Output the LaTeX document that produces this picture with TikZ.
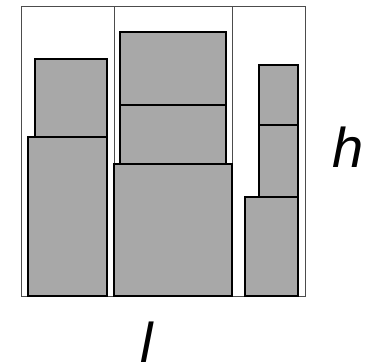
\documentclass[tikz,border=0pt]{standalone}
\usepackage{fontspec}
\setmainfont{Liberation Sans}
\definecolor{boxgray}{HTML}{A8A8A8}
\tikzset{
  frame/.style={draw=black!70,line width=0.8pt},
  block/.style={draw=black,fill=boxgray,line width=1.6pt},
  dimlabel/.style={inner sep=0pt,anchor=base west,font=\fontsize{56}{60}\selectfont\itshape}
}
\begin{document}
\begin{tikzpicture}[x=1pt,y=-1pt]
\useasboundingbox (0,0) rectangle (365,364);
% bins
\draw[frame] (21.5,6) rectangle (305,296);
\draw[frame] (114,6) -- (114,296);
\draw[frame] (232,6) -- (232,296);
% stacked items
\foreach \xa/\ya/\xb/\yb in {28/137/107/296, 35/59/107/137,
  114/164/232/296, 120/105/226/164, 120/32/226/105,
  245/197/298/296, 259/125/298/197, 259/65/298/125}
\draw[block] (\xa,\ya) rectangle (\xb,\yb);
% labels
\node[dimlabel] (hlabel) at (332,167) {h};
\node[dimlabel] (llabel) at (140,362) {l};
\end{tikzpicture}
\end{document}
